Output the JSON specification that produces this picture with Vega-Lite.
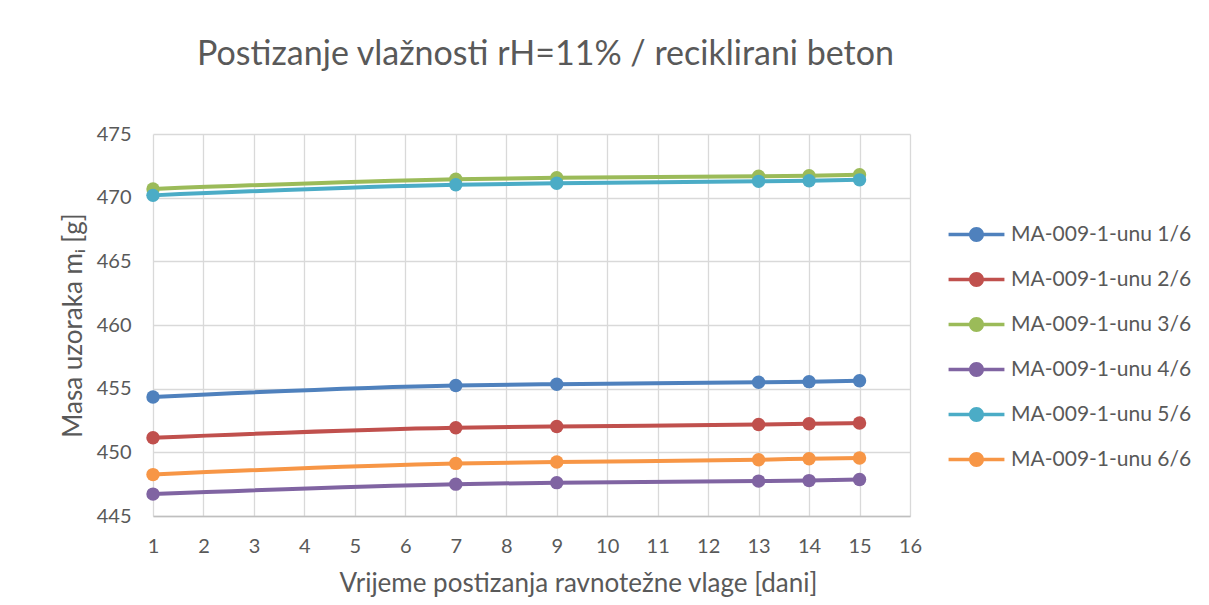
{
  "$schema": "https://vega.github.io/schema/vega-lite/v6.json",
  "autosize": {"type": "none"},
  "width": 757,
  "height": 382,
  "padding": {"left": 153, "top": 134, "right": 299, "bottom": 89},
  "background": "white",
  "title": {
    "text": "Postizanje vlažnosti rH=11% / reciklirani beton",
    "fontSize": 34,
    "font": "Lato",
    "fontWeight": "normal",
    "color": "#595959",
    "anchor": "middle",
    "dx": 14,
    "offset": 52
  },
  "data": {
    "values": [
      {"dan": 1, "uzorak": "MA-009-1-unu 1/6", "masa": 454.35},
      {"dan": 7, "uzorak": "MA-009-1-unu 1/6", "masa": 455.25},
      {"dan": 9, "uzorak": "MA-009-1-unu 1/6", "masa": 455.35},
      {"dan": 13, "uzorak": "MA-009-1-unu 1/6", "masa": 455.5},
      {"dan": 14, "uzorak": "MA-009-1-unu 1/6", "masa": 455.55},
      {"dan": 15, "uzorak": "MA-009-1-unu 1/6", "masa": 455.62},
      {"dan": 1, "uzorak": "MA-009-1-unu 2/6", "masa": 451.15},
      {"dan": 7, "uzorak": "MA-009-1-unu 2/6", "masa": 451.93},
      {"dan": 9, "uzorak": "MA-009-1-unu 2/6", "masa": 452.03},
      {"dan": 13, "uzorak": "MA-009-1-unu 2/6", "masa": 452.18},
      {"dan": 14, "uzorak": "MA-009-1-unu 2/6", "masa": 452.24},
      {"dan": 15, "uzorak": "MA-009-1-unu 2/6", "masa": 452.3},
      {"dan": 1, "uzorak": "MA-009-1-unu 3/6", "masa": 470.68},
      {"dan": 7, "uzorak": "MA-009-1-unu 3/6", "masa": 471.45},
      {"dan": 9, "uzorak": "MA-009-1-unu 3/6", "masa": 471.56},
      {"dan": 13, "uzorak": "MA-009-1-unu 3/6", "masa": 471.68},
      {"dan": 14, "uzorak": "MA-009-1-unu 3/6", "masa": 471.73},
      {"dan": 15, "uzorak": "MA-009-1-unu 3/6", "masa": 471.8},
      {"dan": 1, "uzorak": "MA-009-1-unu 4/6", "masa": 446.72},
      {"dan": 7, "uzorak": "MA-009-1-unu 4/6", "masa": 447.5},
      {"dan": 9, "uzorak": "MA-009-1-unu 4/6", "masa": 447.62},
      {"dan": 13, "uzorak": "MA-009-1-unu 4/6", "masa": 447.74},
      {"dan": 14, "uzorak": "MA-009-1-unu 4/6", "masa": 447.78},
      {"dan": 15, "uzorak": "MA-009-1-unu 4/6", "masa": 447.86},
      {"dan": 1, "uzorak": "MA-009-1-unu 5/6", "masa": 470.18},
      {"dan": 7, "uzorak": "MA-009-1-unu 5/6", "masa": 471.02},
      {"dan": 9, "uzorak": "MA-009-1-unu 5/6", "masa": 471.13},
      {"dan": 13, "uzorak": "MA-009-1-unu 5/6", "masa": 471.28},
      {"dan": 14, "uzorak": "MA-009-1-unu 5/6", "masa": 471.33},
      {"dan": 15, "uzorak": "MA-009-1-unu 5/6", "masa": 471.4},
      {"dan": 1, "uzorak": "MA-009-1-unu 6/6", "masa": 448.25},
      {"dan": 7, "uzorak": "MA-009-1-unu 6/6", "masa": 449.13},
      {"dan": 9, "uzorak": "MA-009-1-unu 6/6", "masa": 449.24},
      {"dan": 13, "uzorak": "MA-009-1-unu 6/6", "masa": 449.42},
      {"dan": 14, "uzorak": "MA-009-1-unu 6/6", "masa": 449.5},
      {"dan": 15, "uzorak": "MA-009-1-unu 6/6", "masa": 449.56}
    ]
  },
  "mark": {
    "type": "line",
    "interpolate": "monotone",
    "strokeWidth": 4,
    "point": {"filled": true, "size": 180, "opacity": 1}
  },
  "encoding": {
    "x": {
      "field": "dan",
      "type": "quantitative",
      "scale": {"domain": [1, 16], "nice": false, "zero": false},
      "axis": {
        "title": "Vrijeme postizanja ravnotežne vlage [dani]",
        "values": [1, 2, 3, 4, 5, 6, 7, 8, 9, 10, 11, 12, 13, 14, 15, 16],
        "labelFlush": false,
        "titleX": 425,
        "titleAlign": "center"
      }
    },
    "y": {
      "field": "masa",
      "type": "quantitative",
      "scale": {"domain": [445, 475], "nice": false, "zero": false},
      "axis": {
        "title": "Masa uzoraka mᵢ [g]",
        "values": [445, 450, 455, 460, 465, 470, 475]
      }
    },
    "color": {
      "field": "uzorak",
      "type": "nominal",
      "scale": {
        "domain": ["MA-009-1-unu 1/6", "MA-009-1-unu 2/6", "MA-009-1-unu 3/6", "MA-009-1-unu 4/6", "MA-009-1-unu 5/6", "MA-009-1-unu 6/6"],
        "range": ["#4f81bd", "#c0504d", "#9bbb59", "#8064a2", "#4bacc6", "#f79646"]
      },
      "legend": {
        "title": null,
        "orient": "none",
        "legendX": 812,
        "legendY": 89,
        "symbolType": "M -2.45 -0.15 L 2.45 -0.15 L 2.45 0.15 L -2.45 0.15 Z M 0 -0.66 A 0.66 0.66 0 1 1 0 0.66 A 0.66 0.66 0 1 1 0 -0.66 Z",
        "symbolSize": 520,
        "symbolStrokeWidth": 0,
        "symbolOpacity": 1,
        "labelFontSize": 21,
        "labelFont": "Lato",
        "labelColor": "#595959",
        "labelOffset": 23,
        "rowPadding": 23,
        "labelLimit": 300
      }
    }
  },
  "config": {
    "view": {"stroke": null},
    "font": "Lato",
    "axis": {
      "grid": true,
      "gridColor": "#d9d9d9",
      "gridWidth": 1.3,
      "domainColor": "#bfbfbf",
      "domainWidth": 1.3,
      "ticks": false,
      "labelFont": "Lato",
      "labelFontSize": 20,
      "labelColor": "#595959",
      "titleFont": "Lato",
      "titleFontSize": 26,
      "titleFontWeight": "normal",
      "titleColor": "#595959"
    },
    "axisX": {"labelPadding": 20, "titlePadding": 14},
    "axisY": {"labelPadding": 22, "titlePadding": 10, "domain": false},
    "legend": {"symbolFillColor": null}
  }
}
